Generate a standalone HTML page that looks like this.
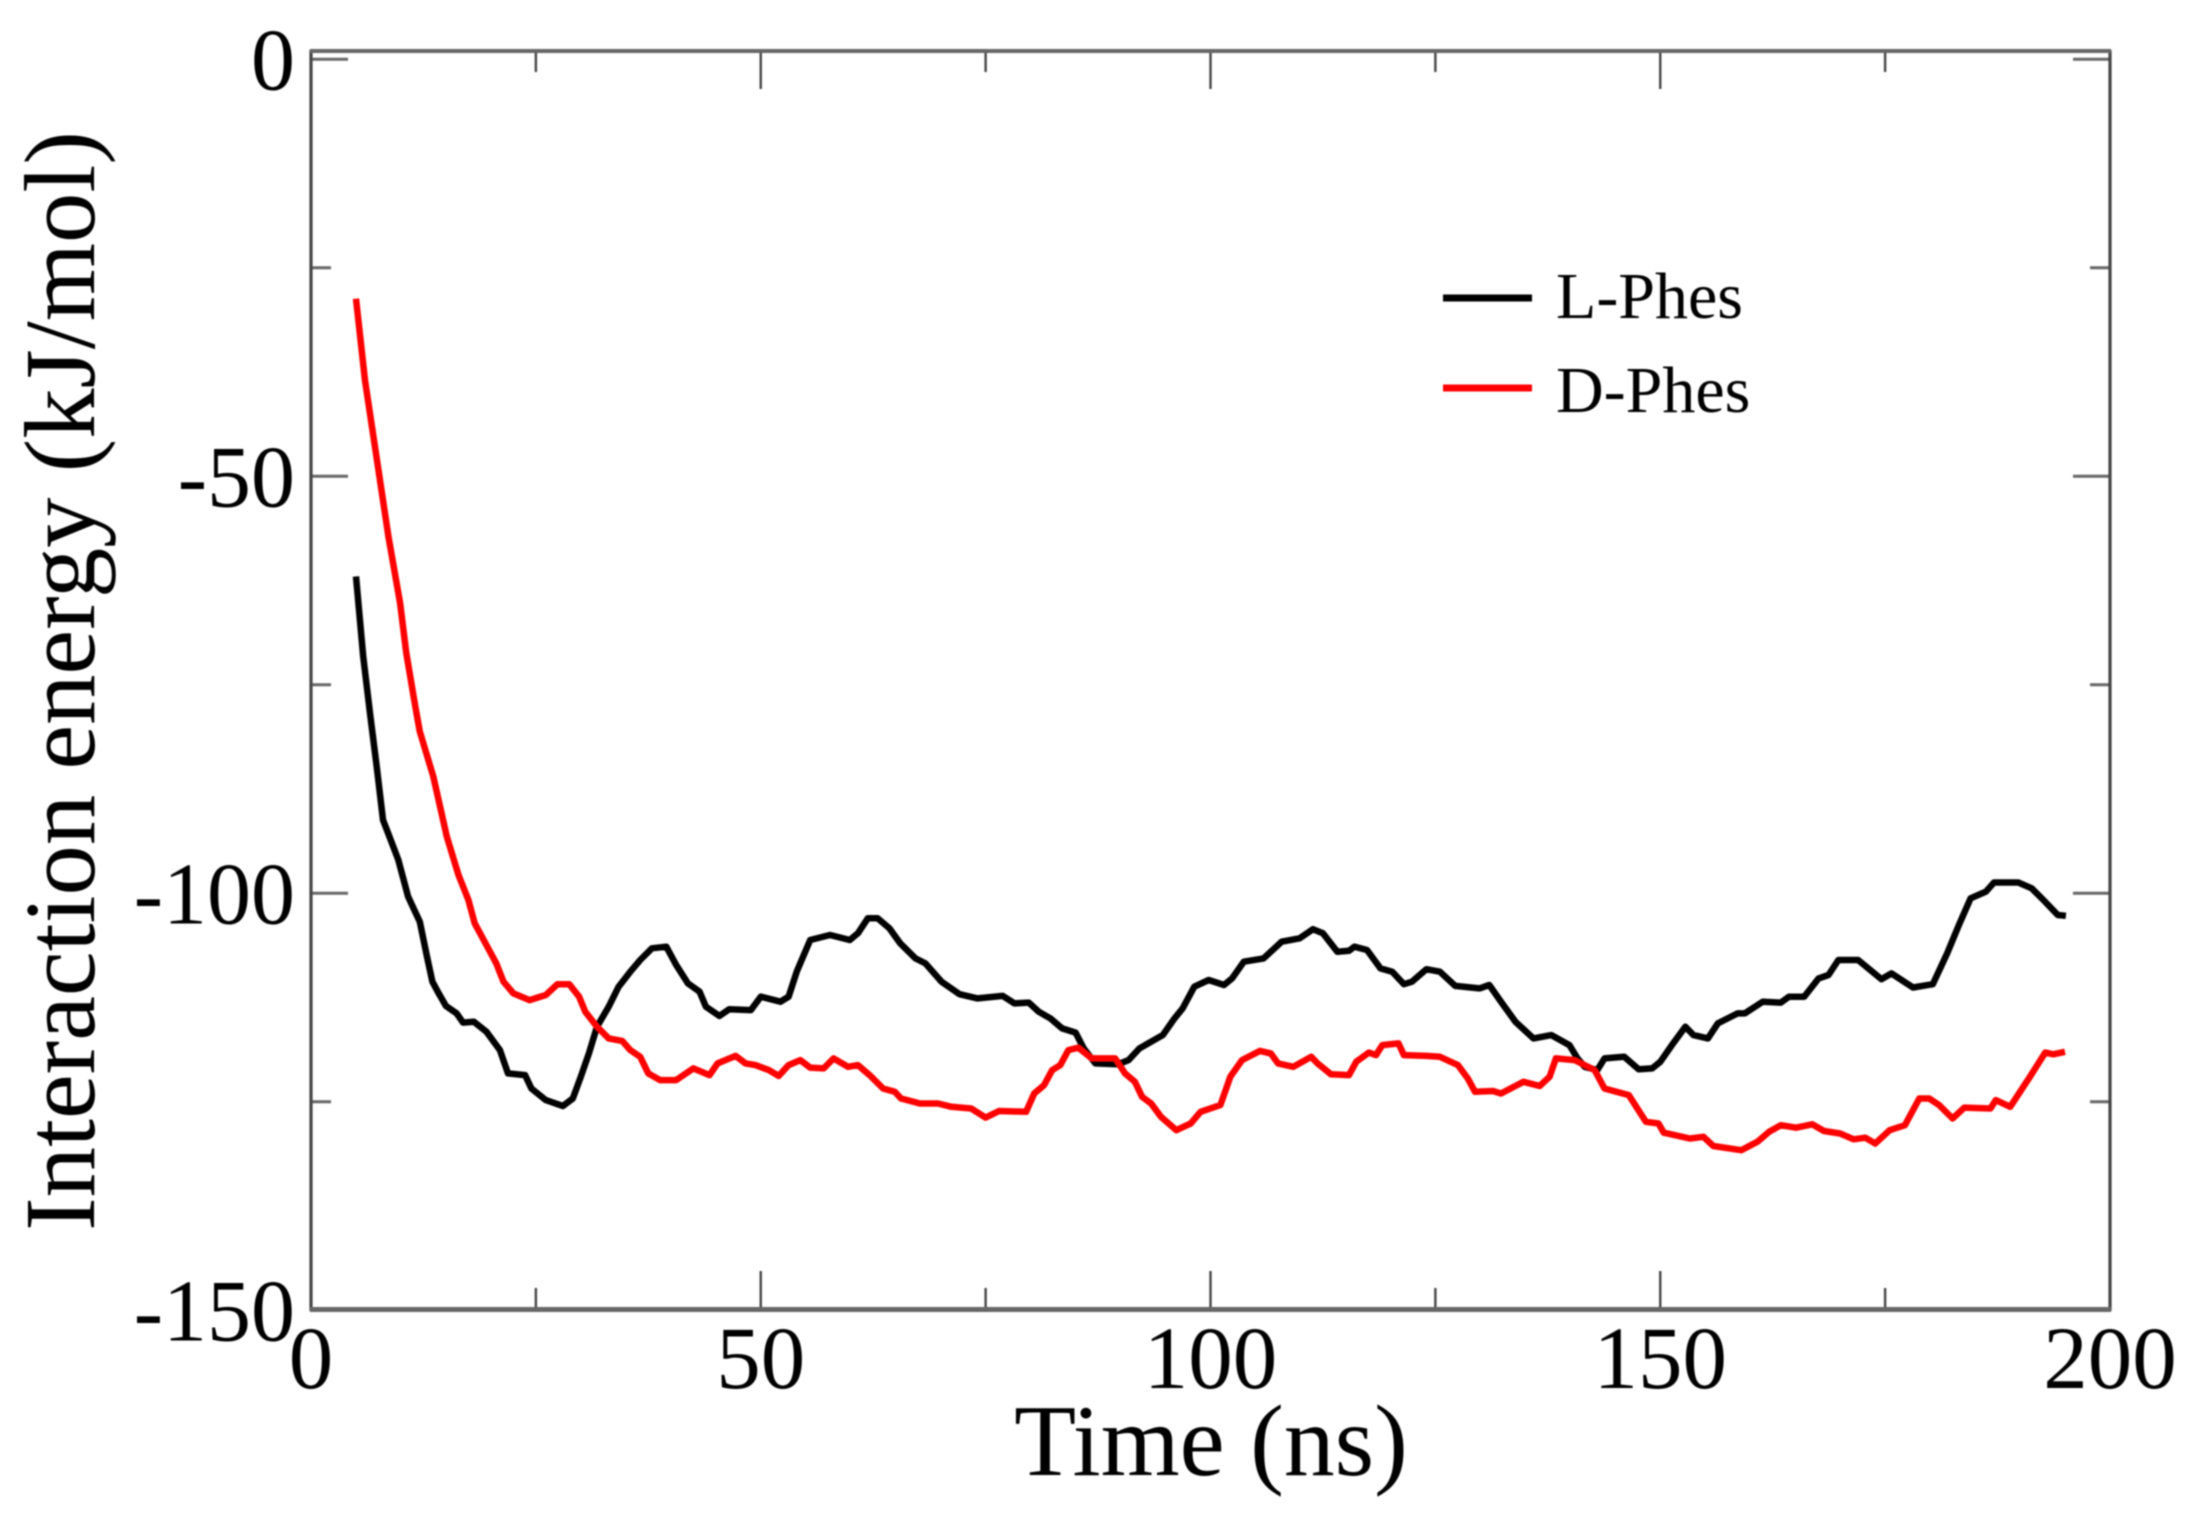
<!DOCTYPE html>
<html lang="en">
<head>
<meta charset="utf-8">
<title>Interaction energy over time</title>
<style>
html,body{margin:0;padding:0;background:#fff;}
#chart{display:block;width:2190px;height:1525px;filter:blur(0.7px);}
text{font-family:"Liberation Serif",serif;fill:#000;}
.tick-label{font-size:89px;}
.y-tick-text{font-size:88px;}
.axis-title{font-size:101.5px;}
.y-title-text{font-size:100.7px;}
.legend-label{font-size:66px;}
</style>
</head>
<body>
<svg id="chart" xmlns="http://www.w3.org/2000/svg" width="2190" height="1525" viewBox="0 0 2190 1525">
  <rect x="0" y="0" width="2190" height="1525" fill="#fff"/>
  <g id="ticks"></g>
  <g id="frame">
    <line x1="311" y1="50" x2="311" y2="1311" stroke="#444" stroke-width="3.2"/>
    <line x1="2110" y1="50" x2="2110" y2="1311" stroke="#444" stroke-width="3.2"/>
    <line x1="310" y1="51" x2="2111" y2="51" stroke="#666" stroke-width="4"/>
    <line x1="310" y1="1309.5" x2="2111" y2="1309.5" stroke="#666" stroke-width="5"/>
  </g>
  <g id="series"></g>
  <g id="tick-labels"></g>
  <text class="axis-title" x="1211" y="1475" text-anchor="middle">Time (ns)</text>
  <text class="y-title-text" transform="translate(94,681) rotate(-90)" text-anchor="middle">Interaction energy (kJ/mol)</text>
  <g>
    <g>
      <line x1="1443" y1="298" x2="1532" y2="298" stroke="#000" stroke-width="7"/>
      <text class="legend-label" x="1556" y="318">L-Phes</text>
    </g>
    <g>
      <line x1="1443" y1="388" x2="1532" y2="388" stroke="#f00" stroke-width="7"/>
      <text class="legend-label" x="1556" y="412">D-Phes</text>
    </g>
  </g>
</svg>
<script>
const xTickLabels = [0, 50, 100, 150, 200];
const yTickLabels = [0, -50, -100, -150];
const xMinorTicks = [25, 75, 125, 175];
const yMinorTicks = [-25, -75, -125];

const lPhesTime = [5,5.8,6.6,7.3,8,9,9.7,10.8,12.1,12.9,13.5,14.2,15,16.2,16.9,18.1,19.5,21,21.9,23.8,24.5,26.1,28,29.1,30,30.9,31.8,33.1,34.2,35.5,36.6,37.9,39.5,40.6,41.9,43.2,43.9,45.4,46.5,48.9,50,52.2,53.1,54,55.5,57.7,59.9,60.8,61.9,63,64.3,65.5,67.2,68.3,70.1,72.1,74.1,76.9,78.2,79.8,80.9,82.2,83.5,85,85.9,87.2,89.7,90.9,92.1,94.7,96,96.9,98.2,99.8,101.5,102.4,103.7,105.9,107.9,109.9,111.4,112.5,114.1,115.4,116,117.4,118.9,120.2,121.5,122.4,124,125.5,127.2,129.9,131,132.3,133.9,135.9,137.9,139.9,140.8,141.6,143,143.8,146,147.6,149.1,150,151.3,152.8,153.7,155.3,156.4,158.6,159.4,161.4,163.4,164.3,166,167.6,168.7,169.8,172,174.6,175.7,178.1,180.3,181.9,183.2,184.5,186.2,187.1,189.8,191.3,192.6,194.2,195.1];
const lPhesEnergy = [-62,-71.6,-78.8,-84.8,-91.2,-94,-96,-100.4,-103.4,-107.6,-110.6,-112,-113.5,-114.4,-115.5,-115.4,-116.6,-118.8,-121.6,-121.8,-123.4,-124.8,-125.5,-124.6,-122,-119.2,-116,-113.6,-111.2,-109.4,-108,-106.6,-106.4,-108.6,-110.8,-111.8,-113.6,-114.7,-113.9,-114,-112.4,-113,-112.4,-109.4,-105.6,-105,-105.6,-104.8,-103,-103,-104.2,-106,-107.8,-108.4,-110.6,-112.1,-112.6,-112.3,-113.2,-113.1,-114.2,-115,-116.2,-116.7,-118.6,-120.4,-120.5,-120,-118.6,-117,-115,-113.8,-111.2,-110.4,-111,-110.2,-108.2,-107.8,-105.8,-105.4,-104.3,-104.8,-107,-106.9,-106.4,-106.8,-109,-109.4,-110.9,-110.6,-109.1,-109.4,-111.1,-111.4,-111,-113,-115.4,-117.4,-117,-118.2,-119.8,-120.8,-121.2,-119.8,-119.6,-121.1,-121,-120.2,-118.2,-116,-117,-117.4,-115.6,-114.4,-114.4,-113,-113.1,-112.4,-112.4,-110.2,-109.8,-108,-108,-110.3,-109.6,-111.3,-110.9,-107.2,-103.8,-100.6,-99.8,-98.7,-98.7,-99.4,-100.8,-102.6,-102.7];

const dPhesTime = [5,6,7.1,8.6,9.9,10.6,11.6,12.1,13.6,15.1,16.4,17.5,18.2,19.5,20.6,21.4,22.5,24.3,26.1,27.4,28.7,29.8,30.5,31.8,33.1,34.6,35.5,36.6,37.5,38.8,40.6,42.5,44.3,45.2,47.2,48.3,49.4,50.9,52,53.1,54.4,55.5,57,58.1,59.7,60.8,62.1,63.6,64.9,65.6,67.7,69.7,71.2,73.4,75,76.5,79.5,80.4,81.5,82.4,83.3,84.2,85.3,86.8,89.4,90.5,91.6,92.4,93.4,94.5,96.2,97.8,98.9,101.1,102.2,103.5,105.5,106.7,107.5,109.2,111.2,111.9,113.4,115.4,116.2,117.6,118.4,119.1,120.9,121.5,124,125.5,127.5,128.6,129.4,131.4,132.3,134.8,136.6,137.7,138.4,140.5,142.7,143.8,146.5,148.4,149.8,150.4,153.3,154.8,155.9,159,160.8,162.1,163.4,165.1,166.9,168.2,170,171.5,172.8,173.9,175.5,177.2,178.8,179.9,181,182.5,183.8,186.7,187.3,188.9,191.1,192.8,193.7,195];
const dPhesEnergy = [-28.7,-38.5,-46.4,-57.2,-65.2,-71.2,-77.6,-80.6,-86,-93.2,-97.8,-100.8,-103.6,-106.2,-108.4,-110.6,-112,-112.8,-112.2,-110.9,-110.9,-112.4,-114.2,-116,-117.4,-117.7,-118.8,-119.6,-121.6,-122.4,-122.4,-121,-121.8,-120.4,-119.5,-120.4,-120.6,-121.2,-121.9,-120.6,-120,-120.9,-121,-119.8,-120.8,-120.6,-121.8,-123.4,-123.8,-124.6,-125.2,-125.2,-125.6,-125.8,-126.9,-126.1,-126.2,-124,-123,-121.2,-120.6,-118.8,-118.5,-119.8,-119.8,-121.6,-122.6,-124.4,-125.2,-126.8,-128.4,-127.6,-126.2,-125.4,-122,-120,-118.9,-119.2,-120.4,-120.8,-119.6,-120.4,-121.7,-121.8,-120.2,-119.1,-119.4,-118.2,-118,-119.4,-119.5,-119.6,-120.6,-122.2,-123.8,-123.7,-124,-122.6,-123.1,-122,-119.8,-120,-121.2,-123.4,-124.2,-127.4,-127.6,-128.7,-129.4,-129.2,-130.3,-130.8,-129.8,-128.6,-127.8,-128.1,-127.7,-128.5,-128.8,-129.5,-129.3,-130,-128.4,-127.8,-124.6,-124.6,-125.4,-127,-125.7,-125.8,-124.8,-125.6,-122,-119.1,-119.3,-119];

const SVG_NS = 'http://www.w3.org/2000/svg';
function xScale(t) { return 311 + (t / 200) * 1799; }
function yScale(v) { return 59.3 - (v / 150) * 1251; }

function addLine(parent, x1, y1, x2, y2, stroke, width) {
  const el = document.createElementNS(SVG_NS, 'line');
  el.setAttribute('x1', x1);
  el.setAttribute('y1', y1);
  el.setAttribute('x2', x2);
  el.setAttribute('y2', y2);
  el.setAttribute('stroke', stroke);
  el.setAttribute('stroke-width', width);
  parent.appendChild(el);
  return el;
}

function addLabel(parent, x, y, anchor, value, cls) {
  const el = document.createElementNS(SVG_NS, 'text');
  el.setAttribute('class', cls);
  el.setAttribute('x', x);
  el.setAttribute('y', y);
  el.setAttribute('text-anchor', anchor);
  el.textContent = String(value);
  parent.appendChild(el);
  return el;
}

function drawXTick(group, value, len) {
  const x = xScale(value);
  const bottom = addLine(group, x, 1309, x, 1309 - len, '#444', 2.4);
  
  
  const top = addLine(group, x, 51, x, 51 + len, '#444', 2.4);
  
  
}

function drawYTick(group, value, len) {
  const y = yScale(value);
  const left = addLine(group, 311, y, 311 + len, y, '#666', 3);
  
  
  const right = addLine(group, 2110, y, 2110 - len, y, '#666', 3);
  
  
}

function drawSeries(group, times, energies, color) {
  const el = document.createElementNS(SVG_NS, 'polyline');
  el.setAttribute('points', times.map(function (t, i) {
    return xScale(t).toFixed(1) + ',' + yScale(energies[i]).toFixed(1);
  }).join(' '));
  el.setAttribute('fill', 'none');
  el.setAttribute('stroke', color);
  el.setAttribute('stroke-width', '6.5');
  el.setAttribute('stroke-linejoin', 'round');
  group.appendChild(el);
  return el;
}

const tickGroup = document.getElementById('ticks');
const labelGroup = document.getElementById('tick-labels');
const seriesGroup = document.getElementById('series');

xTickLabels.forEach(function (v) {
  drawXTick(tickGroup, v, 38);
  const label = addLabel(labelGroup, xScale(v), 1388, 'middle', v, 'tick-label');
  
  
});
xMinorTicks.forEach(function (v) { drawXTick(tickGroup, v, 21); });

yTickLabels.forEach(function (v) {
  drawYTick(tickGroup, v, 37);
  const label = addLabel(labelGroup, 295, yScale(v) + 30, 'end', v, 'y-tick-text');
  
  
});
yMinorTicks.forEach(function (v) { drawYTick(tickGroup, v, 20); });

const lPhesLine = drawSeries(seriesGroup, lPhesTime, lPhesEnergy, '#000');



const dPhesLine = drawSeries(seriesGroup, dPhesTime, dPhesEnergy, '#f00');


</script>
</body>
</html>
